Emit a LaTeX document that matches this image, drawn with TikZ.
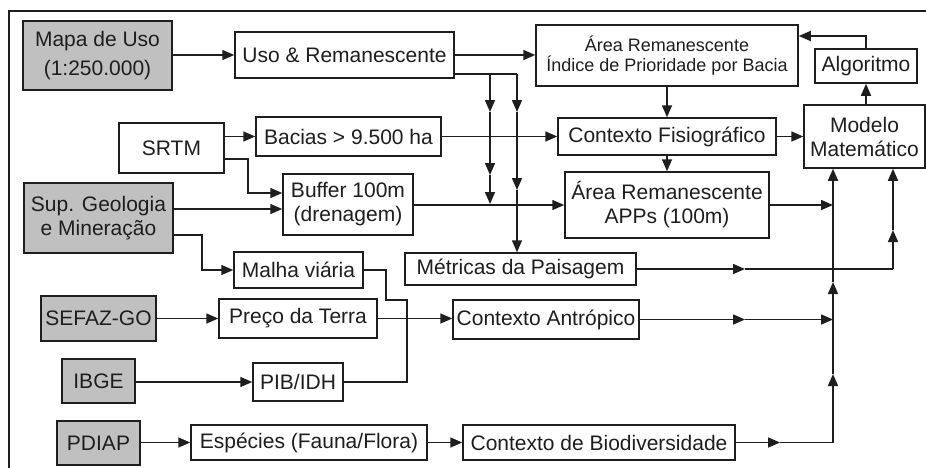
\documentclass[tikz,border=0pt]{standalone}
\usepackage{fontspec}
\setmainfont{Liberation Sans}
\usetikzlibrary{arrows.meta}
\definecolor{boxgray}{RGB}{192,192,192}
\definecolor{ink}{RGB}{30,30,30}
\begin{document}
\begin{tikzpicture}[x=1pt,y=-1pt,
  box/.style={draw=ink, line width=1.5pt, inner sep=0pt, align=center, text=ink,
    font=\fontsize{21}{24}\selectfont},
  graybox/.style={box, fill=boxgray},
  link/.style={draw=ink, line width=1.5pt},
  arr/.style={link, -{Triangle[length=12pt,width=10pt]}}]
\path[use as bounding box, clip] (0,0) rectangle (926,467);
\fill[white] (0,0) rectangle (926,467);
% frame
\draw[ink, line width=1.8pt] (9,480) -- (9,11) -- (940,11);

% nodes
\node[graybox, minimum width=149pt, minimum height=69pt] (mapa) at (97.5,55.5) {Mapa de Uso\\[5pt](1:250.000)};
\node[box, minimum width=219pt, minimum height=46pt] (uso) at (344.5,55) {Uso \& Remanescente};
\node[box, minimum width=262pt, minimum height=61pt, font=\fontsize{18}{20}\selectfont] (area1) at (667,55.5) {Área Remanescente\\Índice de Prioridade por Bacia};
\node[box, minimum width=102pt, minimum height=34pt] (algo) at (866,66) {Algoritmo};
\node[box, minimum width=105pt, minimum height=50pt] (srtm) at (171.5,148) {SRTM};
\node[box, minimum width=185pt, minimum height=39pt] (bacias) at (348.5,136.5) {Bacias > 9.500 ha};
\node[box, minimum width=218pt, minimum height=37pt] (ctxfis) at (667,136.5) {Contexto Fisiográfico};
\node[box, minimum width=121pt, minimum height=63pt] (modelo) at (864.5,136.5) {Modelo\\Matemático};
\node[box, minimum width=130pt, minimum height=61pt] (buffer) at (348,204.5) {Buffer 100m\\(drenagem)};
\node[graybox, minimum width=149pt, minimum height=70pt] (sup) at (98.5,218) {Sup. Geologia\\e Mineração};
\node[box, minimum width=204pt, minimum height=66pt] (apps) at (667,205) {Área Remanescente\\APPs (100m)};
\node[box, minimum width=129pt, minimum height=36pt] (malha) at (298.5,270) {Malha viária};
\node[box, minimum width=231pt, minimum height=32pt] (metricas) at (520.5,269) {Métricas da Paisagem};
\node[graybox, minimum width=115pt, minimum height=45pt] (sefaz) at (98.5,318.5) {SEFAZ-GO};
\node[box, minimum width=158pt, minimum height=39pt] (preco) at (298,318.5) {Preço da Terra};
\node[box, minimum width=186pt, minimum height=39pt] (ctxant) at (546,319.5) {Contexto Antrópico};
\node[graybox, minimum width=73pt, minimum height=44pt] (ibge) at (98.5,381) {IBGE};
\node[box, minimum width=90pt, minimum height=38pt] (pib) at (298,382) {PIB/IDH};
\node[graybox, minimum width=83pt, minimum height=44pt] (pdiap) at (98.5,443) {PDIAP};
\node[box, minimum width=236pt, minimum height=35pt] (especies) at (309,442.5) {Espécies (Fauna/Flora)};
\node[box, minimum width=272pt, minimum height=35pt] (bio) at (599,442.5) {Contexto de Biodiversidade};

% helper coordinates
\coordinate (u1) at (517,74);
\coordinate (u2) at (490,74);
\coordinate (a1) at (517,112);
\coordinate (a2) at (517,190);
\coordinate (b1) at (490,112);
\coordinate (b2) at (490,175);
\coordinate (b3) at (490,204);
\coordinate (s1) at (248,159);
\coordinate (s2) at (0,193);
\coordinate (g0) at (0,209);
\coordinate (g1) at (202,235);
\coordinate (m1) at (386,270);
\coordinate (m2) at (386,300);
\coordinate (m3) at (407,300);
\coordinate (m4) at (407,382);
\coordinate (c1) at (780,442.5);
\coordinate (c2) at (833,442.5);
\coordinate (c3) at (833,374);
\coordinate (c4) at (833,282);
\coordinate (e1) at (745,319.5);
\coordinate (d1) at (745,269);
\coordinate (d2) at (893,269);
\coordinate (d3) at (893,230);
\coordinate (t1) at (0,36);

% connectors
\draw[arr] (mapa.east |- uso.west) -- (uso.west);
\draw[arr] (uso.east) -- (area1.west |- uso.east);
\draw[link] (uso.east |- u1) -- (u1);
\draw[arr] (u1) -- (a1);
\draw[arr] (a1) -- (a2);
\draw[arr] (a2) -- (u1 |- metricas.north);
\draw[arr] (u2) -- (b1);
\draw[arr] (b1) -- (b2);
\draw[arr] (b2) -- (b3);
\draw[arr] (srtm.east |- bacias.west) -- (bacias.west);
\draw[arr] (srtm.east |- s1) -- (s1) |- (buffer.west |- s2);
\draw[arr] (sup.east |- g0) -- (buffer.west |- g0);
\draw[arr] (sup.east |- g1) -- (g1) |- (malha.west);
\draw[link] (malha.east |- m1) -- (m1) -- (m2) -- (m3) -- (m4) -- (pib.east |- m4);
\draw[arr] (sefaz.east) -- (preco.west);
\draw[arr] (preco.east) -- (ctxant.west |- preco.east);
\draw[arr] (ibge.east |- pib.west) -- (pib.west);
\draw[arr] (pdiap.east |- especies.west) -- (especies.west);
\draw[arr] (especies.east) -- (bio.west);
\draw[arr] (bacias.east) -- (ctxfis.west);
\draw[arr] (area1.south) -- (ctxfis.north);
\draw[arr] (ctxfis.south) -- (apps.north);
\draw[arr] (buffer.east |- apps.west) -- (apps.west);
\draw[arr] (ctxfis.east) -- (modelo.west);
\draw[arr] (apps.east) -- (apps.east -| c2);
\draw[arr] (bio.east) -- (c1);
\draw[link] (c1) -- (c2);
\draw[arr] (c2) -- (c3);
\draw[arr] (c3) -- (c4);
\draw[arr] (c4) -- (c2 |- modelo.south);
\draw[arr] (ctxant.east) -- (e1);
\draw[arr] (e1) -- (c2 |- e1);
\draw[arr] (metricas.east) -- (d1);
\draw[link] (d1) -- (d2);
\draw[arr] (d2) -- (d3);
\draw[arr] (d3) -- (d2 |- modelo.south);
\draw[arr] (algo.south |- modelo.north) -- (algo.south);
\draw[arr] (algo.north) |- (area1.east |- t1);
\end{tikzpicture}
\end{document}
